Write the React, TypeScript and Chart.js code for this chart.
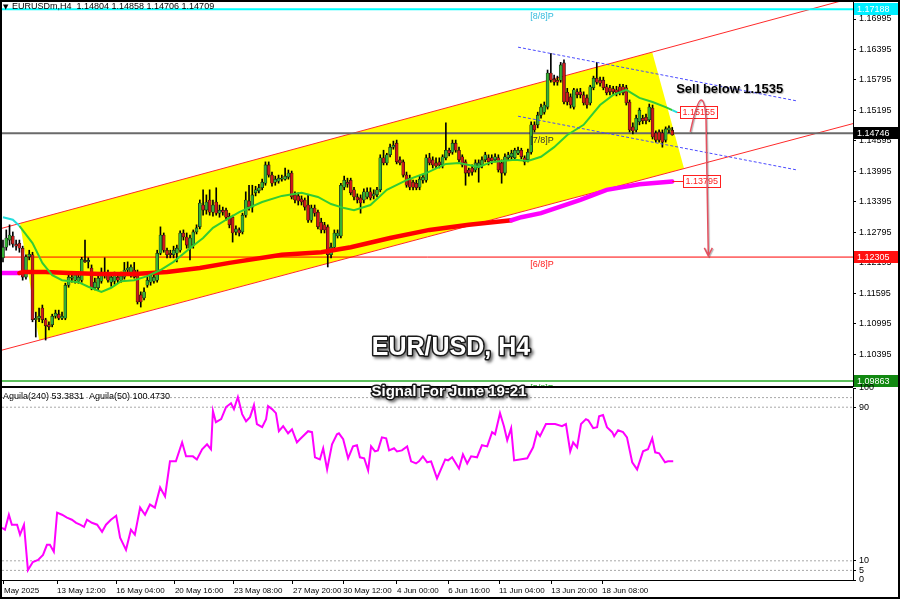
import React, { useEffect, useRef } from "react";
import { Chart, registerables } from "chart.js";
Chart.register(...registerables);

const FONT = '"Liberation Sans", Arial, sans-serif';

// ---------- texts ----------
const symbolHeader = "EURUSDm,H4  1.14804 1.14858 1.14706 1.14709";
const oscHeader = "Aguila(240) 53.3831  Aguila(50) 100.4730";
const chartTitle = "EUR/USD, H4";
const signalText = "Signal For June 19-21";
const sellText = "Sell below 1.1535";

// ---------- axes ----------
const X_MIN = -0.3;
const X_MAX = 259.1;
const Y_MIN = 1.09765;
const Y_MAX = 1.1733;
const priceTicks = [1.16995, 1.16395, 1.15795, 1.15195, 1.14595, 1.13995, 1.13395, 1.12795, 1.12195, 1.11595, 1.10995, 1.10395, 1.09795];
const timeTickIdx = [0.3, 16.5, 34.5, 52.4, 70.4, 88.4, 103.7, 120.1, 135.7, 151.2, 167.1, 182.6];
const timeTickLabels = ["May 2025", "13 May 12:00", "16 May 04:00", "20 May 16:00", "23 May 08:00", "27 May 20:00", "30 May 12:00", "4 Jun 00:00", "6 Jun 16:00", "11 Jun 04:00", "13 Jun 20:00", "18 Jun 08:00"];
const oscTicks = [100, 90, 10, 5, 0];
const oscLevels = [95, 90, 10, 5];

// ---------- levels ----------
const levelPrices = [1.17188, 1.14746, 1.12305, 1.09863];
const levelNames = ["[8/8]P", "[7/8]P", "[6/8]P", "[5/8]P"];
const levelNameIdx = 160.7;

// ---------- candles [open, high, low, close] ----------
const ohlc = [
[1.1229,1.1264,1.1221,1.1250],[1.1250,1.1284,1.1244,1.1268],[1.1264,1.1294,1.1254,1.1274],[1.1272,1.1280,1.1250,1.1256],
[1.1256,1.1264,1.1244,1.1252],[1.1258,1.1264,1.1240,1.1248],[1.1248,1.1252,1.1185,1.1191],[1.1191,1.1235,1.1187,1.1231],
[1.1231,1.1244,1.1225,1.1236],[1.1235,1.1240,1.1103,1.1107],[1.1107,1.1122,1.1073,1.1110],[1.1110,1.1130,1.1103,1.1114],
[1.1130,1.1136,1.1101,1.1107],[1.1107,1.1110,1.1067,1.1095],[1.1097,1.1103,1.1087,1.1093],[1.1097,1.1118,1.1093,1.1114],
[1.1114,1.1126,1.1110,1.1120],[1.1118,1.1126,1.1107,1.1110],[1.1110,1.1122,1.1107,1.1114],[1.1110,1.1179,1.1107,1.1175],
[1.1175,1.1197,1.1171,1.1191],[1.1189,1.1199,1.1181,1.1191],[1.1185,1.1201,1.1179,1.1195],[1.1183,1.1201,1.1179,1.1191],
[1.1185,1.1230,1.1181,1.1226],[1.1224,1.1264,1.1220,1.1221],[1.1221,1.1229,1.1209,1.1224],[1.1209,1.1215,1.1166,1.1170],
[1.1170,1.1189,1.1166,1.1181],[1.1170,1.1193,1.1166,1.1189],[1.1183,1.1209,1.1179,1.1201],[1.1201,1.1229,1.1189,1.1195],
[1.1199,1.1205,1.1181,1.1185],[1.1181,1.1197,1.1173,1.1191],[1.1183,1.1201,1.1177,1.1195],[1.1191,1.1197,1.1179,1.1185],
[1.1185,1.1201,1.1181,1.1193],[1.1191,1.1220,1.1187,1.1205],[1.1205,1.1221,1.1195,1.1209],[1.1195,1.1215,1.1191,1.1211],
[1.1205,1.1220,1.1189,1.1191],[1.1201,1.1205,1.1138,1.1142],[1.1156,1.1162,1.1132,1.1142],[1.1150,1.1170,1.1146,1.1162],
[1.1175,1.1193,1.1171,1.1185],[1.1181,1.1201,1.1175,1.1195],[1.1183,1.1197,1.1179,1.1191],[1.1185,1.1244,1.1181,1.1238],
[1.1238,1.1290,1.1235,1.1274],[1.1274,1.1278,1.1240,1.1244],[1.1244,1.1248,1.1229,1.1235],[1.1238,1.1244,1.1229,1.1235],
[1.1235,1.1252,1.1229,1.1244],[1.1238,1.1254,1.1221,1.1248],[1.1244,1.1282,1.1240,1.1278],[1.1278,1.1284,1.1264,1.1270],
[1.1270,1.1278,1.1248,1.1254],[1.1248,1.1274,1.1225,1.1268],[1.1254,1.1284,1.1248,1.1280],[1.1280,1.1294,1.1276,1.1288],
[1.1290,1.1343,1.1286,1.1337],[1.1333,1.1363,1.1313,1.1323],[1.1323,1.1353,1.1315,1.1339],[1.1343,1.1363,1.1313,1.1319],
[1.1319,1.1343,1.1311,1.1333],[1.1339,1.1367,1.1313,1.1317],[1.1317,1.1333,1.1309,1.1323],[1.1323,1.1329,1.1313,1.1319],
[1.1323,1.1327,1.1303,1.1309],[1.1311,1.1317,1.1288,1.1294],[1.1309,1.1313,1.1260,1.1278],[1.1280,1.1292,1.1274,1.1286],
[1.1284,1.1288,1.1272,1.1278],[1.1280,1.1317,1.1276,1.1313],[1.1313,1.1359,1.1309,1.1343],[1.1341,1.1372,1.1323,1.1329],
[1.1329,1.1372,1.1319,1.1353],[1.1357,1.1370,1.1351,1.1363],[1.1361,1.1374,1.1357,1.1367],[1.1367,1.1384,1.1363,1.1378],
[1.1376,1.1418,1.1372,1.1412],[1.1412,1.1418,1.1388,1.1392],[1.1392,1.1398,1.1370,1.1376],[1.1378,1.1390,1.1372,1.1384],
[1.1380,1.1392,1.1376,1.1386],[1.1384,1.1392,1.1380,1.1386],[1.1384,1.1406,1.1382,1.1390],[1.1388,1.1402,1.1384,1.1396],
[1.1396,1.1400,1.1345,1.1349],[1.1353,1.1359,1.1337,1.1343],[1.1351,1.1357,1.1333,1.1341],[1.1345,1.1351,1.1333,1.1339],
[1.1343,1.1347,1.1323,1.1329],[1.1333,1.1353,1.1299,1.1303],[1.1303,1.1333,1.1299,1.1327],[1.1327,1.1333,1.1311,1.1317],
[1.1319,1.1323,1.1286,1.1290],[1.1299,1.1307,1.1278,1.1284],[1.1294,1.1299,1.1278,1.1284],[1.1290,1.1294,1.1211,1.1235],
[1.1235,1.1258,1.1229,1.1250],[1.1250,1.1284,1.1244,1.1278],[1.1272,1.1284,1.1268,1.1278],[1.1272,1.1376,1.1268,1.1372],
[1.1368,1.1390,1.1363,1.1382],[1.1378,1.1386,1.1368,1.1374],[1.1382,1.1386,1.1353,1.1357],[1.1363,1.1368,1.1343,1.1349],
[1.1349,1.1355,1.1337,1.1343],[1.1347,1.1353,1.1317,1.1337],[1.1343,1.1365,1.1337,1.1359],[1.1349,1.1367,1.1345,1.1359],
[1.1359,1.1367,1.1343,1.1347],[1.1351,1.1363,1.1345,1.1355],[1.1353,1.1368,1.1349,1.1363],[1.1363,1.1432,1.1359,1.1426],
[1.1426,1.1441,1.1412,1.1416],[1.1416,1.1435,1.1412,1.1432],[1.1432,1.1453,1.1428,1.1447],[1.1447,1.1459,1.1443,1.1451],
[1.1455,1.1461,1.1414,1.1418],[1.1422,1.1428,1.1412,1.1416],[1.1418,1.1422,1.1388,1.1392],[1.1392,1.1398,1.1368,1.1372],
[1.1386,1.1392,1.1363,1.1368],[1.1378,1.1382,1.1363,1.1368],[1.1376,1.1382,1.1363,1.1367],[1.1368,1.1390,1.1363,1.1384],
[1.1382,1.1392,1.1376,1.1388],[1.1382,1.1432,1.1378,1.1426],[1.1426,1.1435,1.1412,1.1416],[1.1422,1.1428,1.1406,1.1412],
[1.1416,1.1426,1.1406,1.1410],[1.1418,1.1426,1.1406,1.1412],[1.1412,1.1432,1.1406,1.1428],[1.1426,1.1495,1.1422,1.1441],
[1.1441,1.1445,1.1430,1.1435],[1.1437,1.1461,1.1433,1.1455],[1.1455,1.1461,1.1437,1.1441],[1.1441,1.1447,1.1418,1.1422],
[1.1428,1.1432,1.1408,1.1412],[1.1418,1.1422,1.1372,1.1396],[1.1402,1.1406,1.1390,1.1396],[1.1406,1.1412,1.1392,1.1398],
[1.1402,1.1422,1.1398,1.1416],[1.1406,1.1422,1.1378,1.1416],[1.1412,1.1428,1.1406,1.1422],[1.1422,1.1437,1.1418,1.1432],
[1.1426,1.1432,1.1412,1.1418],[1.1426,1.1432,1.1414,1.1420],[1.1422,1.1434,1.1418,1.1428],[1.1426,1.1432,1.1398,1.1402],
[1.1416,1.1422,1.1376,1.1396],[1.1396,1.1434,1.1392,1.1428],[1.1426,1.1437,1.1422,1.1432],[1.1428,1.1441,1.1422,1.1435],
[1.1426,1.1445,1.1422,1.1441],[1.1435,1.1447,1.1432,1.1441],[1.1441,1.1445,1.1424,1.1428],[1.1426,1.1430,1.1412,1.1418],
[1.1422,1.1443,1.1418,1.1437],[1.1437,1.1497,1.1433,1.1491],[1.1491,1.1497,1.1477,1.1481],[1.1491,1.1516,1.1485,1.1510],
[1.1510,1.1532,1.1504,1.1526],[1.1516,1.1536,1.1512,1.1530],[1.1526,1.1599,1.1522,1.1593],[1.1593,1.1632,1.1575,1.1579],
[1.1581,1.1589,1.1569,1.1575],[1.1579,1.1587,1.1569,1.1575],[1.1579,1.1614,1.1575,1.1609],[1.1613,1.1619,1.1532,1.1536],
[1.1555,1.1563,1.1530,1.1536],[1.1546,1.1552,1.1524,1.1530],[1.1526,1.1563,1.1522,1.1560],[1.1556,1.1562,1.1544,1.1550],
[1.1556,1.1563,1.1544,1.1550],[1.1550,1.1556,1.1530,1.1534],[1.1544,1.1550,1.1524,1.1530],[1.1534,1.1569,1.1530,1.1566],
[1.1564,1.1587,1.1560,1.1583],[1.1583,1.1614,1.1571,1.1575],[1.1579,1.1585,1.1567,1.1573],[1.1579,1.1585,1.1560,1.1564],
[1.1566,1.1571,1.1550,1.1554],[1.1564,1.1569,1.1550,1.1556],[1.1562,1.1567,1.1550,1.1556],[1.1560,1.1567,1.1548,1.1554],
[1.1566,1.1571,1.1550,1.1556],[1.1566,1.1571,1.1550,1.1554],[1.1564,1.1569,1.1530,1.1534],[1.1536,1.1540,1.1477,1.1481],
[1.1487,1.1495,1.1473,1.1479],[1.1481,1.1510,1.1477,1.1504],[1.1497,1.1524,1.1491,1.1520],[1.1504,1.1510,1.1493,1.1499],
[1.1506,1.1512,1.1493,1.1499],[1.1501,1.1532,1.1497,1.1526],[1.1524,1.1530,1.1463,1.1467],[1.1475,1.1479,1.1457,1.1461],
[1.1477,1.1481,1.1457,1.1461],[1.1475,1.1481,1.1447,1.1457],[1.1461,1.1487,1.1457,1.1483],[1.1481,1.1489,1.1475,1.1485],
[1.14804,1.14858,1.14706,1.14709],
];

// ---------- moving averages ----------
const ma20Idx = [0,3,5,9,12,15,18,23,26,30,33,36,40,44,48,52,57,61,64,68,72,79,85,91,96,100,104,107,112,117,123,129,135,139,145,149,156,160,164,168,172,177,182,186,190,194,198,202,204,205.5];
const ma20Val = [1.1309,1.1304,1.1292,1.1258,1.1219,1.1195,1.1185,1.1181,1.1172,1.1162,1.1170,1.1183,1.1185,1.1193,1.1205,1.1221,1.1248,1.1268,1.1288,1.1304,1.1319,1.1339,1.1351,1.1357,1.1349,1.1335,1.1327,1.1323,1.1333,1.1363,1.1382,1.1396,1.1414,1.1416,1.1408,1.1418,1.1422,1.1420,1.1428,1.1447,1.1471,1.1491,1.1530,1.1550,1.1560,1.1544,1.1536,1.1526,1.1520,1.15155];
const ma200Idx = [-0.3,5,6,13,20,30,40,50,60,69,85,97,106,118,130,142,155,158,164,176,184,194,204];
const ma200Val = [1.1199,1.1199,1.1201,1.1201,1.1199,1.1197,1.1197,1.1201,1.1209,1.1219,1.1235,1.1240,1.1250,1.1268,1.1284,1.1294,1.1303,1.1309,1.1317,1.1343,1.1363,1.1374,1.13795];

// ---------- drawn objects ----------
const channelIdx = [-1, 260];
const channelTop = [1.1286, 1.1743];
const channelBottom = [1.1046, 1.1495];
const yellowIdx = [5.2, 197.9, 207.6, 11.0];
const yellowPrice = [1.1297, 1.1634, 1.1405, 1.1067];
const descIdx = [157, 242.1];
const descUpper = [1.1644, 1.1538];
const descLower = [1.1508, 1.1402];
const arrowIdx = [209.5, 211.6, 212.8, 214.0, 214.3, 215.0];
const arrowPrice = [1.1477, 1.1540, 1.1540, 1.1540, 1.1500, 1.1233];
const maLabelBoxIdx = [206.4, 207.3];
const sellIdx = 205.2;
const sellPrice = 1.1560;

// ---------- oscillator ----------
const oscIdx = [-0.3,0.6,1.8,2.7,4.3,5.2,6.4,7.6,9.1,10.7,12.2,13.4,14.3,15.5,16.5,18.0,19.5,21.0,22.3,23.5,24.7,25.6,27.1,28.7,30.2,31.4,32.9,34.5,35.7,37.5,39.0,40.2,41.8,43.3,44.8,46.3,47.9,49.4,50.9,52.7,54.6,55.8,57.9,59.1,60.7,62.2,63.4,64.0,64.9,66.5,68.0,69.5,70.4,71.6,72.9,74.1,75.3,76.5,77.4,79.0,80.2,80.8,82.0,83.2,84.1,85.4,86.9,88.1,89.6,90.5,93.0,94.2,95.1,96.6,97.6,98.8,100.3,101.8,102.4,103.7,105.2,106.7,107.9,108.8,110.1,111.3,112.2,113.4,114.3,115.5,116.8,117.7,119.2,120.1,121.6,123.2,124.4,125.9,126.8,128.0,129.3,130.5,132.3,134.8,135.7,136.9,139.0,140.2,141.5,142.7,144.5,146.0,147.6,149.1,150.0,151.5,152.7,153.7,154.9,155.8,159.8,161.6,162.8,163.7,165.5,168.3,170.4,171.6,172.9,173.8,175.0,176.2,177.7,178.4,179.9,181.1,181.7,182.9,184.1,185.7,186.3,187.5,189.0,190.2,191.8,193.3,195.1,196.6,197.9,198.8,200.0,201.8,202.7,204.3];
const oscVal = [27.2,26.2,34.0,28.8,28.8,23.6,28.8,5.2,9.4,10.5,13.1,18.3,18.3,14.7,35.1,34.0,32.5,31.4,29.8,28.8,27.7,31.4,29.8,28.8,25.1,28.8,31.4,33.5,22.0,15.7,26.2,23.6,37.7,34.0,39.3,37.7,48.2,43.5,61.8,61.8,71.7,64.4,64.4,62.8,68.1,70.7,68.1,88.0,82.2,83.8,90.1,92.1,89.0,95.3,86.4,82.7,84.8,91.1,81.2,79.6,83.8,90.6,89.0,86.9,77.5,80.1,76.4,78.5,71.7,73.3,77.5,77.0,63.9,62.8,68.6,57.6,70.7,75.9,76.4,73.3,63.4,69.6,70.2,63.9,63.4,57.1,69.6,67.0,67.5,74.3,73.8,67.5,68.6,67.0,67.5,69.6,61.8,60.7,61.8,64.4,61.3,61.8,52.9,62.8,62.3,63.9,58.1,65.4,60.7,64.4,63.9,70.2,69.6,77.0,75.9,86.9,80.1,72.8,79.1,62.3,63.4,69.1,77.0,74.9,81.2,81.2,80.1,81.2,67.0,71.7,69.1,81.2,83.8,83.2,79.1,79.6,85.3,85.9,79.6,77.0,74.9,78.0,77.0,74.3,61.3,57.6,67.0,68.1,73.8,66.5,66.0,61.3,61.8,61.8];

// ---------- styles ----------
const BULL = "#35b035";
const BEAR = "#cc1a1a";
const levelLineColors = ["#00ffff", "#6a6a6a", "#ff0000", "#5cbf5c"];
const levelLineWidths = [2, 2, 1, 2];
const levelTextColors = ["#33bbdd", "#333333", "#ff2020", "#22aa22"];
const levelBoxColors = ["#00eeff", "#000000", "#ff1010", "#118811"];

const pts = (xs: number[], ys: number[]) => xs.map((x, i) => ({ x, y: ys[i] }));
const hline = (v: number) => [{ x: X_MIN, y: v }, { x: X_MAX, y: v }];

function textOutlined(ctx: CanvasRenderingContext2D, txt: string, x: number, y: number, font: string) {
  ctx.save();
  ctx.font = font;
  ctx.textAlign = "center";
  ctx.textBaseline = "middle";
  ctx.shadowColor = "rgba(0,0,0,0.55)";
  ctx.shadowOffsetX = 2;
  ctx.shadowOffsetY = 2;
  ctx.shadowBlur = 3;
  ctx.lineJoin = "round";
  ctx.lineWidth = 3;
  ctx.strokeStyle = "#1a1a1a";
  ctx.strokeText(txt, x, y);
  ctx.shadowColor = "transparent";
  ctx.fillStyle = "#ffffff";
  ctx.fillText(txt, x, y);
  ctx.restore();
}

const mainDecor = {
  id: "mainDecor",
  beforeDatasetsDraw(chart: any) {
    const { ctx, chartArea: a, scales } = chart;
    const x = scales.x, y = scales.y;
    ctx.save();
    ctx.beginPath();
    ctx.rect(a.left, a.top, a.right - a.left, a.bottom - a.top);
    ctx.clip();
    ctx.beginPath();
    yellowIdx.forEach((v, i) => {
      const X = x.getPixelForValue(v), Y = y.getPixelForValue(yellowPrice[i]);
      if (i === 0) ctx.moveTo(X, Y); else ctx.lineTo(X, Y);
    });
    ctx.closePath();
    ctx.fillStyle = "#ffff00";
    ctx.fill();
    ctx.restore();
  },
  afterDatasetsDraw(chart: any) {
    const { ctx, chartArea: a, scales } = chart;
    const x = scales.x, y = scales.y;
    const X = (v: number) => x.getPixelForValue(v);
    const Y = (v: number) => y.getPixelForValue(v);
    ctx.save();
    ctx.beginPath();
    ctx.rect(a.left, a.top, a.right - a.left, a.bottom - a.top);
    ctx.clip();

    // level names
    ctx.font = `9px ${FONT}`;
    ctx.textAlign = "left";
    ctx.textBaseline = "top";
    levelNames.forEach((n, i) => {
      ctx.fillStyle = levelTextColors[i];
      ctx.fillText(n, X(levelNameIdx), Y(levelPrices[i]) + 3);
    });

    // MA value boxes
    const box = (txt: string, fromIdx: number, boxIdx: number, price: number) => {
      const yy = Math.round(Y(price)) + 0.5;
      const x1 = Math.round(X(boxIdx)) + 0.5;
      ctx.strokeStyle = "#ff2020";
      ctx.lineWidth = 1;
      ctx.beginPath();
      ctx.moveTo(X(fromIdx), yy);
      ctx.lineTo(x1, yy);
      ctx.stroke();
      ctx.font = `9px ${FONT}`;
      const w = Math.round(ctx.measureText(txt).width) + 4;
      ctx.fillStyle = "#ffffff";
      ctx.fillRect(x1, yy - 6, w, 12);
      ctx.strokeRect(x1, yy - 6, w, 12);
      ctx.fillStyle = "#ff2020";
      ctx.textBaseline = "middle";
      ctx.fillText(txt, x1 + 2, yy + 0.5);
    };
    box(ma20Val[ma20Val.length - 1].toFixed(5), ma20Idx[ma20Idx.length - 1], maLabelBoxIdx[0], ma20Val[ma20Val.length - 1]);
    box(ma200Val[ma200Val.length - 1].toFixed(5), ma200Idx[ma200Idx.length - 1], maLabelBoxIdx[1], ma200Val[ma200Val.length - 1]);

    // sell text
    ctx.save();
    ctx.font = `bold 13px ${FONT}`;
    ctx.textAlign = "left";
    ctx.textBaseline = "middle";
    ctx.shadowColor = "rgba(0,0,0,0.3)";
    ctx.shadowOffsetX = 1;
    ctx.shadowOffsetY = 1;
    ctx.shadowBlur = 1;
    ctx.fillStyle = "#000000";
    ctx.fillText(sellText, X(sellIdx), Y(sellPrice));
    ctx.restore();

    // arrow
    const P = arrowIdx.map((v, i) => [X(v), Y(arrowPrice[i])]);
    ctx.save();
    ctx.strokeStyle = "#e4505f";
    ctx.lineWidth = 1.5;
    ctx.shadowColor = "rgba(0,0,0,0.3)";
    ctx.shadowOffsetX = 1;
    ctx.shadowOffsetY = 1;
    ctx.shadowBlur = 1;
    ctx.beginPath();
    ctx.moveTo(P[0][0], P[0][1]);
    ctx.quadraticCurveTo(P[1][0], P[1][1], P[2][0], P[2][1]);
    ctx.quadraticCurveTo(P[3][0], P[3][1], P[4][0], P[4][1]);
    ctx.lineTo(P[5][0], P[5][1]);
    ctx.moveTo(P[5][0] - 4, P[5][1] - 8);
    ctx.lineTo(P[5][0], P[5][1]);
    ctx.lineTo(P[5][0] + 4, P[5][1] - 8);
    ctx.stroke();
    ctx.restore();

    // header
    ctx.fillStyle = "#000";
    ctx.textBaseline = "middle";
    ctx.font = `7px "DejaVu Sans", sans-serif`;
    ctx.fillText("▼", 3, 7);
    ctx.font = `9px ${FONT}`;
    ctx.fillText(symbolHeader, 12, 7);
    ctx.restore();

    // title
    textOutlined(ctx, chartTitle, chart.width / 2 + 1, a.bottom - 38, `bold 25px ${FONT}`);
  },
  afterDraw(chart: any) {
    const { ctx, chartArea: a, scales } = chart;
    const y = scales.y;
    ctx.save();
    ctx.strokeStyle = "#000";
    ctx.lineWidth = 1;
    ctx.beginPath();
    ctx.moveTo(a.left, a.bottom + 0.5);
    ctx.lineTo(a.right, a.bottom + 0.5);
    ctx.stroke();
    ctx.font = `9px ${FONT}`;
    ctx.textAlign = "left";
    ctx.textBaseline = "middle";
    levelPrices.forEach((p, i) => {
      const yy = Math.round(y.getPixelForValue(p));
      ctx.fillStyle = levelBoxColors[i];
      ctx.fillRect(a.right + 1, yy - 6, 44, 12);
      ctx.fillStyle = "#ffffff";
      ctx.fillText(p.toFixed(5), a.right + 4, yy + 0.5);
    });
    ctx.restore();
  },
};

const oscDecor = {
  id: "oscDecor",
  afterDraw(chart: any) {
    const { ctx, chartArea: a } = chart;
    ctx.save();
    ctx.strokeStyle = "#000";
    ctx.lineWidth = 1;
    ctx.beginPath();
    ctx.moveTo(a.left, a.top - 0.5);
    ctx.lineTo(a.right, a.top - 0.5);
    ctx.stroke();
    ctx.fillStyle = "#000";
    ctx.font = `9px ${FONT}`;
    ctx.textAlign = "left";
    ctx.textBaseline = "middle";
    ctx.fillText(oscHeader, 3, a.top + 9);
    ctx.restore();
    textOutlined(ctx, signalText, chart.width / 2 - 1, a.top + 4, `bold 15px ${FONT}`);
  },
};

export default function App() {
  const mainRef = useRef<HTMLCanvasElement>(null);
  const oscRef = useRef<HTMLCanvasElement>(null);

  useEffect(() => {
    Chart.defaults.font.family = FONT;
    const tickFont = { size: 9, family: FONT };
    const timeFont = { size: 8, family: FONT };

    const lineDs = (data: any[], color: string, width: number, order: number, extra: any = {}) => ({
      type: "line" as const,
      data,
      borderColor: color,
      borderWidth: width,
      pointRadius: 0,
      tension: 0,
      fill: false,
      order,
      ...extra,
    });

    const main = new Chart(mainRef.current as HTMLCanvasElement, {
      type: "bar",
      data: {
        datasets: [
          lineDs(pts(channelIdx, channelTop), "#ff2a2a", 1, 20),
          lineDs(pts(channelIdx, channelBottom), "#ff2a2a", 1, 20),
          ...levelPrices.map((p, i) => lineDs(hline(p), levelLineColors[i], levelLineWidths[i], 15)),
          {
            type: "bar" as const,
            data: ohlc.map((c, i) => ({ x: i, y: [c[2], c[1]] })),
            backgroundColor: "#000000",
            barThickness: 1,
            grouped: false,
            order: 10,
          },
          {
            type: "bar" as const,
            data: ohlc.map((c, i) => ({ x: i, y: [c[0], c[3]] })),
            backgroundColor: ohlc.map((c) => (c[3] >= c[0] ? BULL : BEAR)),
            borderColor: "#111111",
            borderWidth: 0.6,
            borderSkipped: false,
            barThickness: 3,
            grouped: false,
            order: 9,
          },
          lineDs(pts(ma200Idx, ma200Val), "#ff0000", 4.5, 6, {
            segment: {
              borderColor: (c: any) => (ma200Idx[c.p0DataIndex] < 4 || ma200Idx[c.p0DataIndex] >= 155 ? "#ff00ff" : "#ff0000"),
            },
            borderCapStyle: "round",
          }),
          lineDs(pts(ma20Idx, ma20Val), "#33cc33", 2, 5, {
            segment: {
              borderColor: (c: any) => (ma20Idx[c.p0DataIndex] < 4 || ma20Idx[c.p0DataIndex] >= 204 ? "#22dddd" : "#33cc33"),
            },
          }),
          lineDs(pts(descIdx, descUpper), "#4a4aff", 1, 2, { borderDash: [3, 2] }),
          lineDs(pts(descIdx, descLower), "#4a4aff", 1, 2, { borderDash: [3, 2] }),
        ] as any,
      },
      options: {
        animation: false,
        responsive: false,
        devicePixelRatio: 1,
        events: [],
        layout: { padding: { left: 2, top: 2, right: 0, bottom: 1 } },
        plugins: { legend: { display: false }, tooltip: { enabled: false } },
        scales: {
          x: { type: "linear", min: X_MIN, max: X_MAX, offset: false, display: false },
          y: {
            type: "linear",
            position: "right",
            min: Y_MIN,
            max: Y_MAX,
            afterBuildTicks: (ax: any) => {
              ax.ticks = priceTicks.map((v) => ({ value: v }));
            },
            afterFit: (ax: any) => {
              ax.width = 47;
              ax.paddingTop = 0;
              ax.paddingBottom = 0;
            },
            ticks: {
              autoSkip: false,
              padding: 3,
              color: "#000",
              font: tickFont,
              callback: (v: any) => Number(v).toFixed(5),
            },
            grid: { drawOnChartArea: false, drawTicks: true, tickLength: 3, color: "#000" },
            border: { display: true, color: "#000" },
          },
        },
      } as any,
      plugins: [mainDecor],
    });

    const osc = new Chart(oscRef.current as HTMLCanvasElement, {
      type: "line",
      data: {
        datasets: [
          ...oscLevels.map((v) => lineDs(hline(v), "#a8a8a8", 1, 5, { borderDash: [2, 2] })),
          lineDs(pts(oscIdx, oscVal), "#ff00ff", 2, 1),
        ] as any,
      },
      options: {
        animation: false,
        responsive: false,
        devicePixelRatio: 1,
        events: [],
        layout: { padding: { left: 2, top: 8, right: 0, bottom: 2 } },
        plugins: { legend: { display: false }, tooltip: { enabled: false } },
        scales: {
          x: {
            type: "linear",
            min: X_MIN,
            max: X_MAX,
            offset: false,
            afterBuildTicks: (ax: any) => {
              ax.ticks = timeTickIdx.map((v) => ({ value: v }));
            },
            afterFit: (ax: any) => {
              ax.height = 17;
              ax.paddingLeft = 0;
              ax.paddingRight = 0;
            },
            ticks: {
              autoSkip: false,
              maxRotation: 0,
              minRotation: 0,
              align: "start",
              padding: 2,
              color: "#000",
              font: timeFont,
              callback: (_v: any, i: number) => timeTickLabels[i],
            },
            grid: { drawOnChartArea: false, drawTicks: true, tickLength: 4, color: "#000" },
            border: { display: true, color: "#000" },
          },
          y: {
            type: "linear",
            position: "right",
            min: 0,
            max: 100,
            afterBuildTicks: (ax: any) => {
              ax.ticks = oscTicks.map((v) => ({ value: v }));
            },
            afterFit: (ax: any) => {
              ax.width = 47;
              ax.paddingTop = 0;
              ax.paddingBottom = 0;
            },
            ticks: { autoSkip: false, padding: 3, color: "#000", font: tickFont, callback: (v: any) => String(v) },
            grid: { drawOnChartArea: false, drawTicks: true, tickLength: 3, color: "#000" },
            border: { display: true, color: "#000" },
          },
        },
      } as any,
      plugins: [oscDecor],
    });

    return () => {
      main.destroy();
      osc.destroy();
    };
  }, []);

  return (
    <div style={{ position: "absolute", left: 0, top: 0, width: 900, height: 599, background: "#ffffff", overflow: "hidden" }}>
      <canvas ref={mainRef} width={900} height={387} style={{ position: "absolute", left: 0, top: 0, width: 900, height: 387 }} />
      <canvas ref={oscRef} width={900} height={219} style={{ position: "absolute", left: 0, top: 380, width: 900, height: 219 }} />
      <div style={{ position: "absolute", left: 0, top: 0, width: 900, height: 599, border: "2px solid #000", boxSizing: "border-box", pointerEvents: "none" }} />
    </div>
  );
}
